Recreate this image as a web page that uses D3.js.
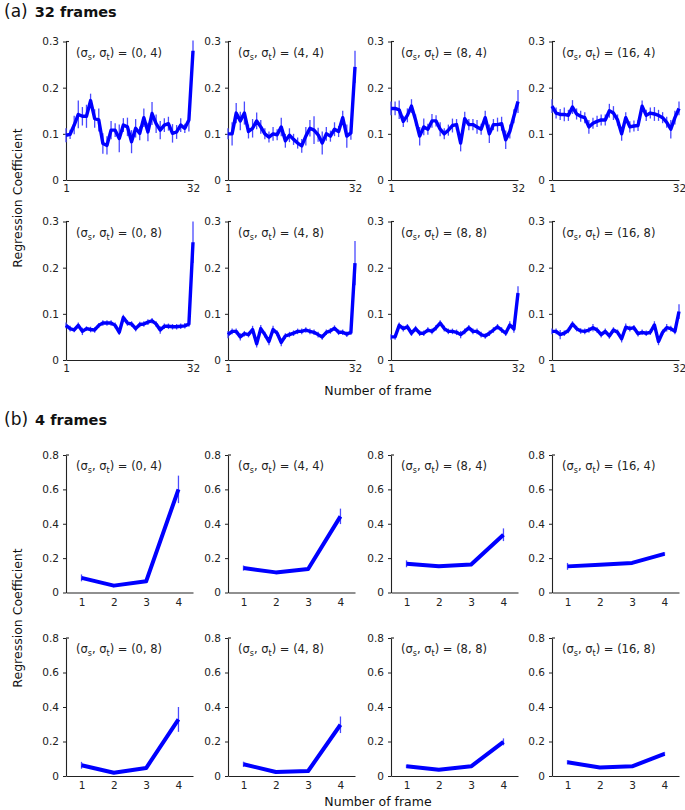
<!DOCTYPE html>
<html>
<head>
<meta charset="utf-8">
<script src="https://cdn.jsdelivr.net/npm/d3@7"></script>
<style>
  html, body { margin: 0; padding: 0; background: #fff; }
  svg { display: block; font-family: "DejaVu Sans", Verdana, sans-serif; }
</style>
</head>
<body>
<svg id="chart" width="685" height="810"></svg>
<script>
// ---------- DATA ----------
const sigmaLabels = [[0, 4], [4, 4], [8, 4], [16, 4], [0, 8], [4, 8], [8, 8], [16, 8]];

const frames32 = d3.range(1, 33);
const frames4 = [1, 2, 3, 4];

const ticks32Y = [0, 0.1, 0.2, 0.3];
const ticks4Y = [0, 0.2, 0.4, 0.6, 0.8];
const ticks32X = [1, 32];
const ticks4X = [1, 2, 3, 4];

// 32-frame regression coefficients
const a_0_4 = [0.097,0.099,0.119,0.142,0.138,0.138,0.172,0.133,0.130,0.079,0.075,0.108,0.108,0.090,0.119,0.115,0.083,0.112,0.101,0.135,0.104,0.144,0.122,0.108,0.119,0.122,0.101,0.104,0.119,0.112,0.130,0.280];
const a_4_4 = [0.100,0.100,0.145,0.128,0.145,0.105,0.112,0.128,0.115,0.100,0.093,0.100,0.098,0.115,0.085,0.097,0.088,0.080,0.074,0.095,0.112,0.108,0.098,0.080,0.100,0.095,0.110,0.105,0.135,0.095,0.102,0.245];
const a_8_4 = [0.155,0.155,0.152,0.127,0.140,0.160,0.130,0.095,0.115,0.110,0.128,0.128,0.110,0.100,0.108,0.118,0.120,0.080,0.133,0.120,0.120,0.115,0.110,0.135,0.100,0.120,0.120,0.122,0.087,0.105,0.138,0.170];
const a_16_4 = [0.160,0.145,0.142,0.142,0.140,0.158,0.143,0.138,0.135,0.115,0.123,0.127,0.130,0.130,0.150,0.145,0.130,0.100,0.135,0.115,0.117,0.118,0.160,0.140,0.145,0.143,0.140,0.135,0.125,0.110,0.135,0.155];
const a_0_8 = [0.075,0.068,0.065,0.075,0.062,0.068,0.066,0.065,0.075,0.080,0.080,0.080,0.075,0.060,0.092,0.080,0.078,0.068,0.077,0.078,0.082,0.085,0.078,0.065,0.073,0.073,0.072,0.072,0.073,0.074,0.078,0.255];
const a_4_8 = [0.055,0.062,0.062,0.050,0.057,0.055,0.066,0.035,0.068,0.055,0.040,0.066,0.058,0.038,0.052,0.055,0.058,0.062,0.062,0.065,0.062,0.060,0.055,0.050,0.060,0.063,0.069,0.060,0.060,0.056,0.060,0.210];
const a_8_8 = [0.050,0.050,0.075,0.068,0.072,0.058,0.068,0.058,0.058,0.065,0.062,0.070,0.080,0.068,0.062,0.062,0.060,0.055,0.062,0.070,0.062,0.062,0.055,0.052,0.058,0.065,0.072,0.065,0.058,0.076,0.067,0.145];
const a_16_8 = [0.062,0.062,0.055,0.058,0.064,0.078,0.068,0.063,0.062,0.065,0.070,0.065,0.055,0.062,0.052,0.065,0.060,0.046,0.071,0.068,0.070,0.057,0.060,0.058,0.060,0.076,0.040,0.060,0.070,0.068,0.062,0.105];

// 32-frame error bar half-lengths
const ea_0_4 = [0.015,0.010,0.020,0.030,0.020,0.025,0.015,0.020,0.025,0.022,0.020,0.020,0.015,0.030,0.015,0.020,0.025,0.020,0.015,0.020,0.020,0.025,0.020,0.020,0.015,0.015,0.020,0.015,0.015,0.010,0.025,0.022];
const ea_4_4 = [0.012,0.025,0.022,0.020,0.025,0.015,0.020,0.018,0.015,0.012,0.012,0.015,0.012,0.020,0.015,0.015,0.012,0.012,0.015,0.020,0.018,0.030,0.015,0.025,0.015,0.012,0.015,0.012,0.015,0.025,0.015,0.035];
const ea_8_4 = [0.015,0.015,0.020,0.012,0.015,0.015,0.012,0.020,0.018,0.012,0.015,0.012,0.015,0.012,0.012,0.015,0.012,0.018,0.015,0.012,0.012,0.015,0.012,0.015,0.020,0.012,0.015,0.015,0.020,0.015,0.015,0.025];
const ea_16_4 = [0.015,0.012,0.012,0.015,0.012,0.015,0.012,0.012,0.012,0.015,0.012,0.012,0.012,0.012,0.015,0.015,0.012,0.015,0.012,0.012,0.012,0.012,0.012,0.012,0.012,0.015,0.012,0.012,0.012,0.020,0.015,0.015];
const ea_0_8 = [0.006,0.006,0.005,0.006,0.008,0.005,0.006,0.006,0.005,0.006,0.006,0.006,0.006,0.006,0.006,0.006,0.006,0.006,0.006,0.006,0.006,0.006,0.006,0.008,0.006,0.006,0.006,0.006,0.006,0.006,0.006,0.045];
const ea_4_8 = [0.008,0.006,0.006,0.008,0.006,0.006,0.008,0.008,0.008,0.006,0.008,0.008,0.006,0.008,0.006,0.006,0.006,0.006,0.006,0.006,0.006,0.006,0.006,0.006,0.006,0.006,0.006,0.006,0.006,0.006,0.006,0.048];
const ea_8_8 = [0.006,0.006,0.006,0.006,0.006,0.006,0.006,0.006,0.006,0.006,0.006,0.006,0.006,0.006,0.006,0.006,0.006,0.008,0.006,0.006,0.006,0.006,0.006,0.006,0.006,0.006,0.006,0.006,0.006,0.008,0.008,0.015];
const ea_16_8 = [0.006,0.006,0.010,0.006,0.006,0.006,0.006,0.006,0.006,0.006,0.008,0.006,0.006,0.006,0.006,0.006,0.006,0.008,0.008,0.006,0.006,0.006,0.006,0.006,0.006,0.008,0.008,0.006,0.008,0.006,0.006,0.016];

// 4-frame regression coefficients
const b_0_4 = [0.085, 0.040, 0.065, 0.600];
const b_4_4 = [0.142, 0.117, 0.137, 0.443];
const b_8_4 = [0.167, 0.153, 0.163, 0.336];
const b_16_4 = [0.152, 0.162, 0.172, 0.225];
const b_0_8 = [0.062, 0.019, 0.046, 0.328];
const b_4_8 = [0.068, 0.023, 0.029, 0.297];
const b_8_8 = [0.056, 0.036, 0.056, 0.198];
const b_16_8 = [0.080, 0.049, 0.056, 0.128];

const eb_0_4 = [0.020, 0.008, 0.008, 0.080];
const eb_4_4 = [0.015, 0.008, 0.008, 0.045];
const eb_8_4 = [0.020, 0.008, 0.008, 0.037];
const eb_16_4 = [0.020, 0.006, 0.006, 0.010];
const eb_0_8 = [0.020, 0.006, 0.008, 0.072];
const eb_4_8 = [0.015, 0.006, 0.006, 0.048];
const eb_8_8 = [0.010, 0.006, 0.006, 0.020];
const eb_16_8 = [0.012, 0.006, 0.006, 0.012];

const values32 = [a_0_4, a_4_4, a_8_4, a_16_4, a_0_8, a_4_8, a_8_8, a_16_8];
const errors32 = [ea_0_4, ea_4_4, ea_8_4, ea_16_4, ea_0_8, ea_4_8, ea_8_8, ea_16_8];
const values4 = [b_0_4, b_4_4, b_8_4, b_16_4, b_0_8, b_4_8, b_8_8, b_16_8];
const errors4 = [eb_0_4, eb_4_4, eb_8_4, eb_16_4, eb_0_8, eb_4_8, eb_8_8, eb_16_8];

// ---------- LAYOUT ----------
const svg = d3.select("#chart");
const lefts = [66, 228, 391, 552];
const panelW = 127;
const blue = "#0000ff";
const errBlue = "#4a4aff";
const axisCol = "#222";

function drawPanel(opts) {
  const { left, top, bottom, xDomain, yDomain, xTicks, yTicks, frames, vals, errs, label, xPad, lineW, yFmt } = opts;
  const x = d3.scaleLinear().domain(xDomain).range([left, left + panelW]);
  const y = d3.scaleLinear().domain(yDomain).range([bottom, top]);
  const g = svg.append("g");

  // y axis
  const ya = g.append("g").attr("transform", `translate(${left},0)`)
    .call(d3.axisLeft(y).tickValues(yTicks).tickSize(3).tickSizeOuter(0).tickPadding(4).tickFormat(yFmt));
  ya.select(".domain").attr("stroke", axisCol).attr("stroke-width", 1.1);
  ya.selectAll(".tick line").attr("stroke", axisCol);
  ya.selectAll(".tick text").attr("fill", "#222").style("font-size", "10.5px").style("font-family", "DejaVu Sans, sans-serif");
  // inner stub at top
  g.append("line").attr("x1", left).attr("x2", left + 3).attr("y1", y(yDomain[1])).attr("y2", y(yDomain[1]))
    .attr("stroke", axisCol).attr("stroke-width", 1.1);

  // x axis
  const xa = g.append("g").attr("transform", `translate(0,${bottom})`)
    .call(d3.axisBottom(x).tickValues(xTicks).tickSize(0).tickSizeOuter(0).tickPadding(xPad).tickFormat(d3.format("d")));
  xa.select(".domain").attr("stroke", axisCol).attr("stroke-width", 1.1);
  xa.selectAll(".tick text").attr("fill", "#222").style("font-size", "10.5px").style("font-family", "DejaVu Sans, sans-serif");

  // error bars
  g.append("g").selectAll("line").data(frames).join("line")
    .attr("x1", (d) => x(d)).attr("x2", (d) => x(d))
    .attr("y1", (d, i) => y(vals[i] - errs[i]))
    .attr("y2", (d, i) => y(vals[i] + errs[i]))
    .attr("stroke", errBlue).attr("stroke-width", 1.3);

  // line
  const line = d3.line().x((d) => x(d[0])).y((d) => y(d[1]));
  g.append("path").datum(frames.map((f, i) => [f, vals[i]]))
    .attr("d", line).attr("fill", "none").attr("stroke", blue)
    .attr("stroke-width", lineW).attr("stroke-linejoin", "round");

  // label
  const t = g.append("text").attr("x", left + 10).attr("y", top + 15)
    .style("font-size", "11.5px").attr("fill", "#222");
  t.append("tspan").text("(σ");
  t.append("tspan").attr("dy", 3).style("font-size", "8px").text("s");
  t.append("tspan").attr("dy", -3).text(", σ");
  t.append("tspan").attr("dy", 3).style("font-size", "8px").text("t");
  t.append("tspan").attr("dy", -3).text(`) = (${label[0]}, ${label[1]})`);
}

const fmt32 = (d) => (d === 0 ? "0" : d3.format(".1f")(d));

// (a) 32 frames
const rowsA = [{ top: 41.5, bottom: 180 }, { top: 221.5, bottom: 360 }];
for (let p = 0; p < 8; p++) {
  const r = rowsA[Math.floor(p / 4)];
  drawPanel({
    left: lefts[p % 4], top: r.top, bottom: r.bottom,
    xDomain: [1, 32], yDomain: [0, 0.3], xTicks: ticks32X, yTicks: ticks32Y,
    frames: frames32, vals: values32[p], errs: errors32[p], label: sigmaLabels[p],
    xPad: 5, lineW: 3.4, yFmt: fmt32
  });
}

// (b) 4 frames
const rowsB = [{ top: 455, bottom: 592.5 }, { top: 638, bottom: 776 }];
for (let p = 0; p < 8; p++) {
  const r = rowsB[Math.floor(p / 4)];
  drawPanel({
    left: lefts[p % 4], top: r.top, bottom: r.bottom,
    xDomain: [0.52, 4.45], yDomain: [0, 0.8], xTicks: ticks4X, yTicks: ticks4Y,
    frames: frames4, vals: values4[p], errs: errors4[p], label: sigmaLabels[p],
    xPad: 6, lineW: 4, yFmt: fmt32
  });
}

// titles
function title(y, letter, txt) {
  const t = svg.append("text").attr("x", 4).attr("y", y).attr("fill", "#111");
  t.append("tspan").style("font-size", "17px").text(`(${letter})`);
  t.append("tspan").attr("dx", 7).style("font-size", "14.5px").style("font-weight", "bold").text(txt);
}
title(17, "a", "32 frames");
title(425, "b", "4 frames");

// axis titles
function axTitles(cy, xlabY) {
  svg.append("text").attr("transform", `translate(22,${cy}) rotate(-90)`)
    .attr("text-anchor", "middle").style("font-size", "12.5px").attr("fill", "#111")
    .text("Regression Coefficient");
  svg.append("text").attr("x", 378).attr("y", xlabY).attr("text-anchor", "middle")
    .style("font-size", "12.5px").attr("fill", "#111").text("Number of frame");
}
axTitles(198, 395);
axTitles(618, 806);
</script>
</body>
</html>
